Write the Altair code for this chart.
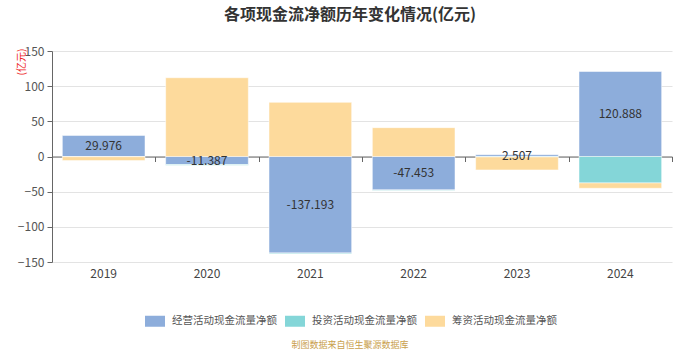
import altair as alt
import pandas as pd

years = ["2019", "2020", "2021", "2022", "2023", "2024"]
series = ["经营活动现金流量净额", "投资活动现金流量净额", "筹资活动现金流量净额"]
operating = [29.976, -11.387, -137.193, -47.453, 2.507, 120.888]
investing = [-0.3, -1.0, -1.2, -0.8, -0.6, -37.6]
financing = [-5.5, 112.0, 77.0, 41.0, -18.5, -7.6]
colors = ["#8DADDB", "#84D6D8", "#FDDA9C"]

FONT = "Noto Sans CJK SC"

rows = []
for i, y in enumerate(years):
    pos, neg = 0.0, 0.0
    for s, vals in zip(series, [operating, investing, financing]):
        v = vals[i]
        if v >= 0:
            lo, hi = pos, pos + v
            pos = hi
        else:
            lo, hi = neg + v, neg
            neg = lo
        rows.append({"year": y, "series": s, "value": v, "lo": lo, "hi": hi,
                     "mid": (lo + hi) / 2,
                     "label": f"{v:.3f}" if s == series[0] else ""})
df = pd.DataFrame(rows)

xscale = alt.Scale(domain=years, paddingInner=0, paddingOuter=0)
yscale = alt.Scale(domain=[-150, 150], nice=False)

bars = alt.Chart(df).mark_bar(
    width=alt.RelativeBandSize(0.8), stroke="white", strokeOpacity=0.5, strokeWidth=1
).encode(
    x=alt.X("year:N", scale=xscale, sort=years,
            axis=alt.Axis(title=None, orient="bottom", domain=False, ticks=False,
                          labelAngle=0, labelFont=FONT, labelFontSize=12,
                          labelColor="#444", labelPadding=6, grid=False)),
    y=alt.Y("lo:Q", scale=yscale,
            axis=alt.Axis(title=None, orient="left",
                          values=[-150, -100, -50, 0, 50, 100, 150],
                          labelOverlap=False,
                          labelFont=FONT, labelFontSize=12, labelColor="#555",
                          domainColor="#666", tickColor="#666", tickSize=5,
                          gridColor="#e3e3e3", labelPadding=3)),
    y2="hi:Q",
    color=alt.Color("series:N", sort=series,
                    scale=alt.Scale(domain=series, range=colors),
                    legend=alt.Legend(title=None, orient="none", direction="horizontal",
                                      legendX=93, legendY=260,
                                      symbolType="M-1,-0.55H1V0.55H-1Z",
                                      symbolSize=400, symbolStrokeWidth=0,
                                      symbolOpacity=1,
                                      labelFont=FONT, labelFontSize=10.5,
                                      labelColor="#555", labelOffset=7,
                                      columnPadding=8)),
)

labels = alt.Chart(df[df["label"] != ""]).mark_text(
    font=FONT, fontSize=12, color="#333"
).encode(
    x=alt.X("year:N", scale=xscale, sort=years, axis=None),
    y=alt.Y("mid:Q", scale=yscale, axis=None),
    text="label:N",
)

zero_axis = alt.Chart(df).mark_point(opacity=0).encode(
    x=alt.X("year:N", scale=xscale, sort=years,
            axis=alt.Axis(title=None, orient="bottom", offset=-105.5, labels=False,
                          domainColor="#666", tickColor="#666", tickSize=5,
                          bandPosition=0, tickBand="extent", grid=False)),
    y=alt.Y("mid:Q", scale=yscale, axis=None),
)

unit_df = pd.DataFrame({"t": ["(亿元)"]})
unit = alt.Chart(unit_df).mark_text(
    font=FONT, fontSize=10, color="#ee2222", angle=270
).encode(x=alt.value(-30), y=alt.value(11), text="t:N")

src_df = pd.DataFrame({"t": ["制图数据来自恒生聚源数据库"]})
source = alt.Chart(src_df).mark_text(
    font=FONT, fontSize=9, color="#c9a04c"
).encode(x=alt.value(298), y=alt.value(294), text="t:N")

chart = alt.layer(bars, zero_axis, labels, unit, source).resolve_axis(
    x="independent", y="independent"
).properties(
    width=620, height=211,
    autosize=alt.AutoSizeParams(type="none"),
    padding={"left": 52, "top": 51, "right": 28, "bottom": 88},
    title=alt.TitleParams("各项现金流净额历年变化情况(亿元)", font=FONT, fontSize=16,
                          fontWeight="bold", color="#333", anchor="middle",
                          dx=-12, offset=22),
).configure_view(stroke=None)

chart.save("out.html", embed_options={"renderer": "svg", "actions": False})
